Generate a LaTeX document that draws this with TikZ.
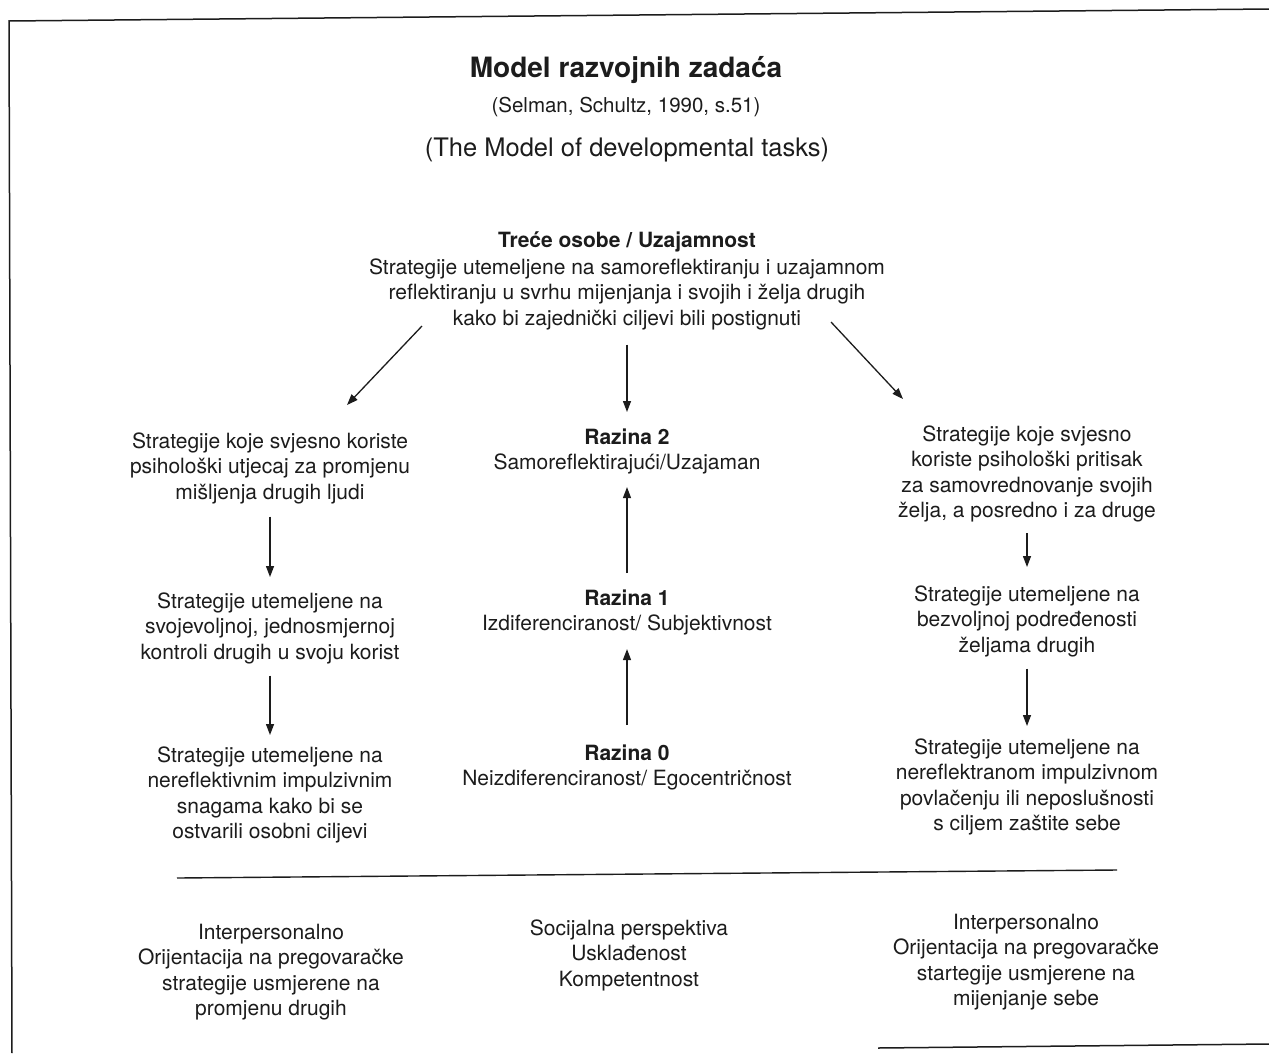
\documentclass[tikz,border=0pt]{standalone}
\usepackage{fontspec}
\setmainfont{TeX Gyre Heros}
\usetikzlibrary{arrows.meta}
\definecolor{ink}{HTML}{1C1C1C}
\newcommand\fs[1]{\rule{0pt}{#1pt}}
\begin{document}
\begin{tikzpicture}[x=1pt,y=-1pt,
  txt/.style={align=center,inner sep=0pt,anchor=north,text=ink,font=\fontsize{21}{25.5}\selectfont},
  titlestyle/.style={txt,font=\fontsize{28}{33}\selectfont\bfseries},
  citestyle/.style={txt,font=\fontsize{20.5}{25}\selectfont},
  engstyle/.style={txt,font=\fontsize{25.5}{30}\selectfont},
  arr/.style={draw=ink,line width=1.3pt,-{Triangle[length=11pt,width=8pt]}},
  frameline/.style={draw=ink,line width=1.5pt},
  sepline/.style={draw=ink,line width=1.4pt}]
\useasboundingbox (0,0) rectangle (1269,1053);
\fill[white] (0,0) rectangle (1269,1053);

% frame
\draw[frameline] (1269,9) -- (9,21) -- (12,1053);
\draw[frameline] (878,1048) -- (1269,1044);

% titles
\node[titlestyle] (title) at (626,55) {\fs{22}Model razvojnih zadaća};
\node[citestyle] (cite) at (626,95) {\fs{17}(Selman, Schultz, 1990, s.51)};
\node[engstyle] (eng) at (627,136) {\fs{20}(The Model of developmental tasks)};

% top block
\node[txt] (T) at (627,231) {\fs{16}{\bfseries Treće osobe / Uzajamnost}\\[1.5pt]Strategije utemeljene na samoreflektiranju i uzajamnom\\reflektiranju u svrhu mijenjanja i svojih i želja drugih\\kako bi zajednički ciljevi bili postignuti};

% left column
\node[txt] (L1) at (270,432) {\fs{16}Strategije koje svjesno koriste\\psihološki utjecaj za promjenu\\mišljenja drugih ljudi};
\node[txt] (L2) at (270,592) {\fs{16}Strategije utemeljene na\\svojevoljnoj, jednosmjernoj\\kontroli drugih u svoju korist};
\node[txt] (L3) at (270,746) {\fs{16}Strategije utemeljene na\\nereflektivnim impulzivnim\\snagama kako bi se\\ostvarili osobni ciljevi};

% center column
\node[txt] (C2) at (627,428) {\fs{16}{\bfseries Razina 2}\\Samoreflektirajući/Uzajaman};
\node[txt] (C1) at (627,589) {\fs{16}{\bfseries Razina 1}\\Izdiferenciranost/ Subjektivnost};
\node[txt] (C0) at (627,744) {\fs{16}{\bfseries Razina 0}\\Neizdiferenciranost/ Egocentričnost};

% right column
\node[txt] (R1) at (1027,425) {\fs{16}Strategije koje svjesno\\koriste psihološki pritisak\\za samovrednovanje svojih\\želja, a posredno i za druge};
\node[txt] (R2) at (1027,585) {\fs{16}Strategije utemeljene na\\bezvoljnoj podređenosti\\željama drugih};
\node[txt] (R3) at (1027,738) {\fs{16}Strategije utemeljene na\\nereflektranom impulzivnom\\povlačenju ili neposlušnosti\\s ciljem zaštite sebe};

% separator
\draw[sepline] (177,878) -- (1117,870);

% bottom texts
\node[txt] (B1) at (271,923) {\fs{16}Interpersonalno\\Orijentacija na pregovaračke\\strategije usmjerene na\\promjenu drugih};
\node[txt] (B2) at (629,919) {\fs{16}Socijalna perspektiva\\Usklađenost\\Kompetentnost};
\node[txt] (B3) at (1026,913) {\fs{16}Interpersonalno\\Orijentacija na pregovaračke\\startegije usmjerene na\\mijenjanje sebe};

% arrows
\coordinate (dlA) at (422,326);
\coordinate (dlB) at (347,405);
\coordinate (drA) at (831,322);
\coordinate (drB) at (903,399);
\draw[arr] (dlA) -- (dlB);
\draw[arr] (drA) -- (drB);
\draw[arr,shorten <=14.6pt,shorten >=16pt] (T.south) -- (C2.north);

\draw[arr,shorten <=12.6pt,shorten >=15pt] (L1.south) -- (L2.north);
\draw[arr,shorten <=11.6pt,shorten >=11pt] (L2.south) -- (L3.north);

\draw[arr,shorten <=16pt,shorten >=12.6pt] (C1.north) -- (C2.south);
\draw[arr,shorten <=19pt,shorten >=13.6pt] (C0.north) -- (C1.south);

\draw[arr,shorten <=10.6pt,shorten >=18pt] (R1.south) -- (R2.north);
\draw[arr,shorten <=11.6pt,shorten >=12pt] (R2.south) -- (R3.north);
\end{tikzpicture}
\end{document}
